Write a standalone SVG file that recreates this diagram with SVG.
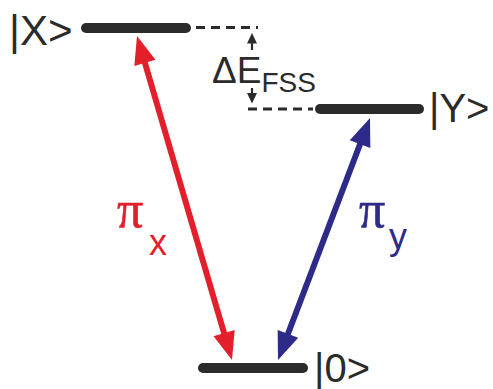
<svg xmlns="http://www.w3.org/2000/svg" width="493" height="389" viewBox="0 0 493 389">
<style>
.lvl{stroke:#2b2b2b;stroke-width:10;stroke-linecap:round;fill:none}
.dash{stroke:#2b2b2b;stroke-width:3.2;stroke-dasharray:9 6;fill:none}
.lbl{font-family:"Liberation Sans",Arial,sans-serif;fill:#2b2b2b}
.pi{font-family:"Liberation Serif","Times New Roman",serif;font-size:52px;stroke-width:0.6}
.sub{font-family:"Liberation Sans",Arial,sans-serif;font-size:36px}
.red{stroke:#e31f2b;fill:none;stroke-width:6}
.blue{stroke:#2e2a88;fill:none;stroke-width:6}
</style>
<rect width="493" height="389" fill="#fff"/>
<g id="level-X">
<line class="lvl" x1="86" y1="28" x2="186" y2="28"/>
<text class="lbl" x="9" y="45" font-size="42">|X&gt;</text>
</g>
<g id="level-Y">
<line class="lvl" x1="320" y1="109" x2="419" y2="109"/>
<text class="lbl" x="429" y="122" font-size="40">|Y&gt;</text>
</g>
<g id="level-0">
<line class="lvl" x1="203" y1="368" x2="303" y2="368"/>
<text class="lbl" x="314" y="382" font-size="40">|0&gt;</text>
</g>
<g id="splitting">
<text class="lbl" x="212" y="83" font-size="37">ΔE<tspan font-size="28" y="92">FSS</tspan></text>
</g>
<g id="label-pix" fill="#e31f2b">
<text class="pi" x="117" y="227" stroke="#e31f2b">π</text>
<text class="sub" x="149" y="255">x</text>
</g>
<g id="label-piy" fill="#2e2a88">
<text class="pi" x="359" y="227" stroke="#2e2a88">π</text>
<text class="sub" x="389" y="249">y</text>
</g>
<g id="connectors">
<line class="dash" x1="196" y1="27.5" x2="258" y2="27.5"/>
<line class="dash" x1="248" y1="109" x2="313" y2="109"/>
<line x1="252" y1="42" x2="252" y2="50" stroke="#2b2b2b" stroke-width="2.2"/>
<polygon points="252,33 247,43.5 257,43.5" fill="#2b2b2b"/>
<line x1="252" y1="88" x2="252" y2="94" stroke="#2b2b2b" stroke-width="2.2"/>
<polygon points="252,103.5 247,93 257,93" fill="#2b2b2b"/>
<line class="red" x1="143.5" y1="58" x2="225.5" y2="338"/>
<polygon points="137,36 155.44,59.77 134.32,65.97" fill="#e31f2b"/>
<polygon points="232,360 234.68,330.03 213.56,336.23" fill="#e31f2b"/>
<line class="blue" x1="362" y1="139" x2="286" y2="339"/>
<polygon points="370,118 370.33,148.08 349.77,140.26" fill="#2e2a88"/>
<polygon points="278,360 298.23,337.74 277.67,329.92" fill="#2e2a88"/>
</g>
</svg>
